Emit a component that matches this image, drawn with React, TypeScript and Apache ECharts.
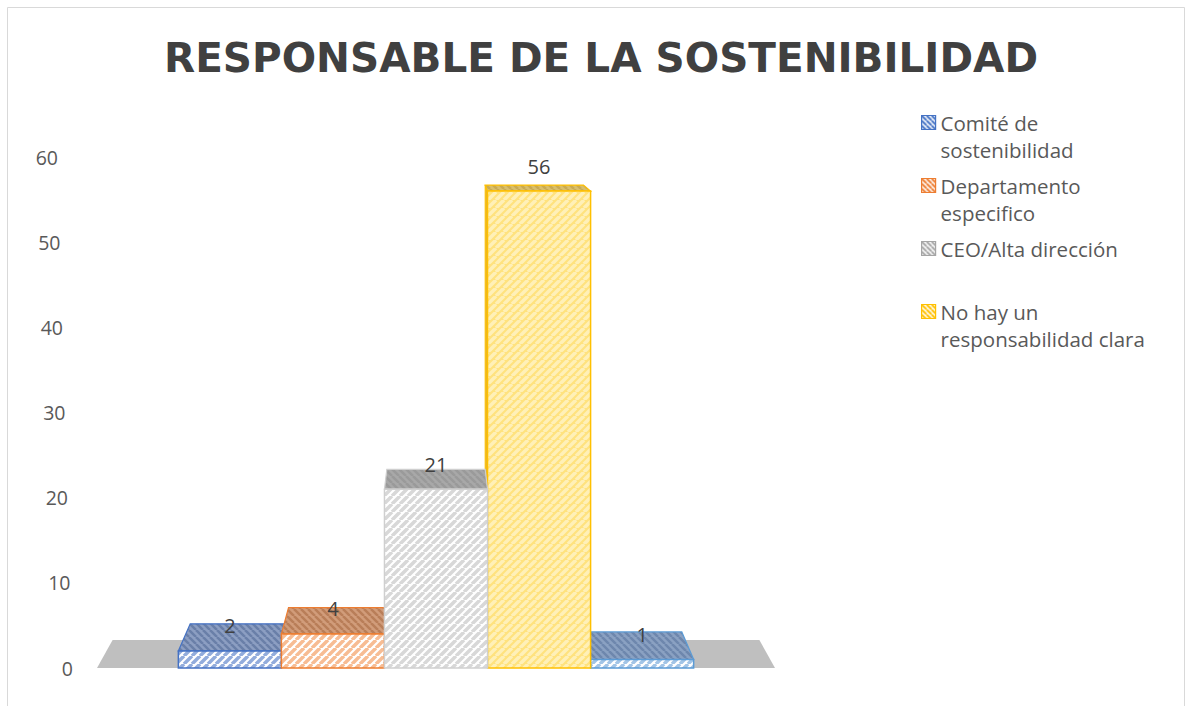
import React, { useEffect, useRef } from 'react';
import * as echarts from 'echarts';

const TITLE = 'RESPONSABLE DE LA SOSTENIBILIDAD';
const CATEGORIES = [
  'Comité de sostenibilidad',
  'Departamento especifico',
  'CEO/Alta dirección',
  'No hay un responsabilidad clara',
  'Otros',
];
const VALUES = [2, 4, 21, 56, 1];
const LEGEND_LABELS = [
  'Comité de\nsostenibilidad',
  'Departamento\nespecifico',
  'CEO/Alta dirección\n',
  'No hay un\nresponsabilidad clara',
];
const Y_TICKS = [0, 10, 20, 30, 40, 50, 60];

const FONT = '"Open Sans", "Noto Sans", sans-serif';
const TITLE_FONT = '"DejaVu Sans", "Open Sans", sans-serif';
const K = 0.046; // perspective depth factor
const VP_ABOVE_TOP = 97; // vanishing point above the top of the value axis
const BAR_GAP = 0.24;
const DRAW_Z = [2, 3, 6, 5, 4];

type Pal = { stroke: string; front: [string, string]; top: [string, string]; side: string; legend: [string, string] };
const PALETTE: Pal[] = [
  { stroke: '#4472c4', front: ['#ffffff', '#92acdc'], top: ['#8c9ec2', '#6a7fa8'], side: '#7189b8', legend: ['#ffffff', '#4472c4'] },
  { stroke: '#ed7d31', front: ['#ffffff', '#f7bc93'], top: ['#d19c7a', '#b97e59'], side: '#d08a5a', legend: ['#ffffff', '#ed7d31'] },
  { stroke: '#cfcfcf', front: ['#ffffff', '#d8d8d8'], top: ['#a8a8a8', '#9a9a9a'], side: '#b5b5b5', legend: ['#ffffff', '#a5a5a5'] },
  { stroke: '#ffc000', front: ['#ffe27e', '#fff0b8'], top: ['#d9bf6c', '#c9aa52'], side: '#e7b52a', legend: ['#ffffff', '#ffc000'] },
  { stroke: '#5b9bd5', front: ['#ffffff', '#a2c4e6'], top: ['#8aa1c2', '#6e87ad'], side: '#7aa0cc', legend: ['#ffffff', '#5b9bd5'] },
];

function hatch(bg: string, fg: string, dir: number, size = 8, lw = 3) {
  const c = document.createElement('canvas');
  c.width = size;
  c.height = size;
  const ctx = c.getContext('2d')!;
  ctx.fillStyle = bg;
  ctx.fillRect(0, 0, size, size);
  ctx.strokeStyle = fg;
  ctx.lineWidth = lw;
  ctx.beginPath();
  for (const o of [-size, 0, size]) {
    if (dir > 0) {
      ctx.moveTo(o, size);
      ctx.lineTo(o + size, 0);
    } else {
      ctx.moveTo(o, 0);
      ctx.lineTo(o + size, size);
    }
  }
  ctx.stroke();
  return { image: c, repeat: 'repeat', imageWidth: size, imageHeight: size } as any;
}

export default function App() {
  const ref = useRef<HTMLDivElement>(null);

  useEffect(() => {
    document.body.style.margin = '0';
    const chart = echarts.init(ref.current!, null, { renderer: 'svg' });

    const pats = PALETTE.map((p) => ({
      front: hatch(p.front[0], p.front[1], 1, 8, 3.5),
      top: hatch(p.top[0], p.top[1], -1, 7, 2.5),
      legend: hatch(p.legend[0], p.legend[1], -1, 5, 2),
    }));

    const makeRender = (i: number) => (params: any, api: any) => {
      const v = api.value(1);
      const [cx, yTop] = api.coord([0, v]);
      const y0 = api.coord([0, 0])[1];
      const yMax = api.coord([0, Y_TICKS[Y_TICKS.length - 1]])[1];
      const catW = api.size([1, 0])[0];
      const inner = catW * (1 - BAR_GAP);
      const bw = inner / CATEGORIES.length;
      const x1 = cx - inner / 2 + i * bw;
      const x2 = x1 + bw;
      const vpx = cx;
      const vpy = yMax - VP_ABOVE_TOP;
      const back = (x: number, y: number) => [x + (vpx - x) * K, y + (vpy - y) * K];
      const p = PALETTE[i];
      const children: any[] = [];
      if (x2 < vpx - 1) {
        children.push({
          type: 'polygon',
          shape: { points: [[x2, y0], [x2, yTop], back(x2, yTop), back(x2, y0)] },
          style: { fill: p.side, stroke: p.stroke, lineWidth: 1 },
        });
      }
      if (x1 > vpx + 1) {
        children.push({
          type: 'polygon',
          shape: { points: [[x1, y0], [x1, yTop], back(x1, yTop), back(x1, y0)] },
          style: { fill: p.side, stroke: p.stroke, lineWidth: 1 },
        });
      }
      children.push({
        type: 'polygon',
        shape: { points: [[x1, yTop], [x2, yTop], back(x2, yTop), back(x1, yTop)] },
        style: { fill: pats[i].top, stroke: p.stroke, lineWidth: 1.2 },
      });
      children.push({
        type: 'rect',
        shape: { x: x1, y: yTop, width: bw, height: y0 - yTop },
        style: { fill: pats[i].front, stroke: p.stroke, lineWidth: 1.5 },
      });
      children.push({
        type: 'text',
        x: (x1 + x2) / 2,
        y: yTop - 25,
        style: {
          text: String(v),
          fill: '#404040',
          fontSize: 20,
          fontFamily: FONT,
          align: 'center',
          verticalAlign: 'middle',
        },
      });
      return { type: 'group', children };
    };

    const floorRender = (params: any, api: any) => {
      const [cx, y0] = api.coord([0, 0]);
      const yMax = api.coord([0, Y_TICKS[Y_TICKS.length - 1]])[1];
      const catW = api.size([1, 0])[0];
      const xl = cx - catW / 2;
      const xr = cx + catW / 2;
      const vpx = cx;
      const vpy = yMax - VP_ABOVE_TOP;
      const back = (x: number, y: number) => [x + (vpx - x) * K, y + (vpy - y) * K];
      return {
        type: 'polygon',
        shape: { points: [[xl, y0], [xr, y0], back(xr, y0), back(xl, y0)] },
        style: { fill: '#bfbfbf' },
      };
    };

    const rich: any = {};
    Y_TICKS.forEach((t) => {
      rich['t' + t] = {
        padding: [0, t * 0.25, 0, 0],
        fontSize: 19.5,
        color: '#595959',
        fontFamily: FONT,
      };
    });

    const legendIcon = 'path://M0,0H14V14H0Z M7,41L7.01,41Z';

    chart.setOption({
      animation: false,
      backgroundColor: '#ffffff',
      title: {
        text: TITLE,
        left: 596,
        top: 32,
        textAlign: 'center',
        textStyle: { fontSize: 40.5, fontWeight: 'bold', color: '#404040', fontFamily: TITLE_FONT },
      },
      legend: {
        orient: 'vertical',
        left: 916,
        top: 104,
        padding: 5,
        itemWidth: 14,
        itemHeight: 41,
        itemGap: 9,
        icon: legendIcon,
        data: LEGEND_LABELS.map((_, i) => ({
          name: CATEGORIES[i],
          itemStyle: { color: pats[i].legend, borderColor: PALETTE[i].legend[1], borderWidth: 1.2 },
        })),
        formatter: (name: string) => LEGEND_LABELS[CATEGORIES.indexOf(name)] ?? name,
        textStyle: { fontSize: 20.5, lineHeight: 27, color: '#595959', fontFamily: FONT },
      },
      graphic: [
        {
          type: 'rect',
          shape: { x: 7.5, y: 7.5, width: 1177, height: 710 },
          style: { fill: 'none', stroke: '#d9d9d9', lineWidth: 1 },
          silent: true,
        },
      ],
      grid: { left: 97, right: 417, top: 157, bottom: 38 },
      xAxis: { type: 'category', data: [''], show: false },
      yAxis: {
        type: 'value',
        min: 0,
        max: 60,
        interval: 10,
        splitLine: { show: false },
        axisLine: { show: false },
        axisTick: { show: false },
        axisLabel: {
          margin: 24,
          formatter: (val: number) => `{t${val}|${val}}`,
          rich,
        },
      },
      series: [
        {
          type: 'custom',
          name: 'floor',
          z: 1,
          silent: true,
          renderItem: floorRender,
          data: [[0, 0]],
        },
        ...CATEGORIES.map((name, i) => ({
          type: 'custom',
          name,
          z: DRAW_Z[i],
          renderItem: makeRender(i),
          itemStyle: { color: PALETTE[i].stroke },
          data: [[0, VALUES[i]]],
        })),
      ],
    });

    return () => chart.dispose();
  }, []);

  return <div ref={ref} style={{ width: 1192, height: 706 }} />;
}
